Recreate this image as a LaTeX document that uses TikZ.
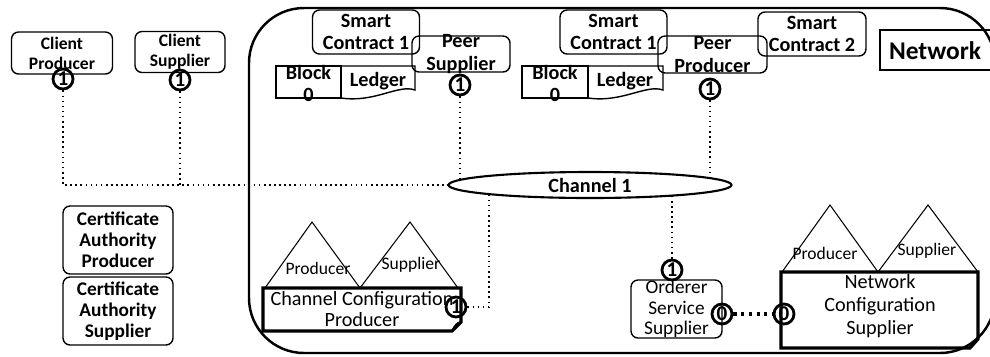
\documentclass[tikz,border=0pt]{standalone}
\usepackage{fontspec}
\setmainfont{Carlito}
\usetikzlibrary{shapes.geometric,backgrounds}

\tikzset{
	box/.style={draw, rounded corners=4pt, line width=0.8pt, inner sep=0pt, align=center},
	txtb/.style={font=\bfseries\fontsize{11.5}{13}\selectfont, align=center},
	txts/.style={font=\bfseries\fontsize{10}{11.3}\selectfont, align=center},
	txtca/.style={font=\bfseries\fontsize{11}{12}\selectfont, align=center},
	txtr/.style={font=\fontsize{11.5}{12}\selectfont, align=center},
	txtt/.style={font=\fontsize{10}{11}\selectfont},
	port/.style={draw, circle, line width=1.6pt, minimum size=0.4cm, inner sep=0pt, font=\bfseries\fontsize{12}{12}\selectfont},
	link/.style={dotted, line width=0.9pt},
	cfg/.style={line width=1.8pt},
	tri/.style={line width=0.6pt},
}

\begin{document}
\begin{tikzpicture}[x=0.02cm, y=-0.02cm]
	\useasboundingbox (0,0) rectangle (990,356);
	\draw[line width=1.4pt, rounded corners=1.1cm] (249,8) rectangle (995,353);
	\draw[line width=0.8pt] (1000,30) -- (880,30) -- (880,70) -- (1000,70);
	\node[font=\bfseries\fontsize{14.5}{16}\selectfont] (netlbl) at (935,51) {Network};

	\node[box, txts, minimum width=2.02cm, minimum height=0.84cm] (cprod) at (62,53) {Client\\Producer};
	\node[box, txts, minimum width=1.8cm, minimum height=0.82cm] (csupp) at (180,52) {Client\\Supplier};

	\node[box, txtb, minimum width=2.14cm, minimum height=0.88cm] (sc1a) at (366,32) {Smart\\Contract 1};
	\node[box, minimum width=1.96cm, minimum height=0.72cm, label={[txtb]center:Peer\\Supplier}] (psupp) at (461,54) {};
	\node[draw, line width=0.8pt, minimum width=1.3cm, minimum height=0.64cm, label={[txtb, yshift=-0.03cm]center:Block\\0}] (blk0a) at (308.5,82) {};
	\draw[line width=0.8pt] (341,98) -- (341,66) -- (415,66) -- (415,90) .. controls (398,84) and (375,103) .. (341,98);
	\node[txtb] (ledga) at (378,81) {Ledger};

	\node[box, txtb, minimum width=2.14cm, minimum height=0.88cm] (sc1b) at (613.5,32) {Smart\\Contract 1};
	\node[box, minimum width=2.18cm, minimum height=0.74cm, label={[txtb]center:Peer\\Producer}] (pprod) at (712.5,54.5) {};
	\node[box, txtb, minimum width=2.16cm, minimum height=0.88cm] (sc2) at (812,34) {Smart\\Contract 2};
	\node[draw, line width=0.8pt, minimum width=1.32cm, minimum height=0.64cm, label={[txtb, yshift=-0.03cm]center:Block\\0}] (blk0b) at (555,82) {};
	\draw[line width=0.8pt] (588,98) -- (588,66) -- (663,66) -- (663,90) .. controls (646,84) and (622,103) .. (588,98);
	\node[txtb] (ledgb) at (625,81) {Ledger};

	\node[ellipse, draw, fill=white, line width=1.2pt, minimum width=5.66cm, minimum height=0.52cm, inner sep=0pt, txtb] (chan) at (590,185) {Channel 1};
	\coordinate (chanA) at (489,185);

	\node[box, txtca, minimum width=2.2cm, minimum height=1.36cm] (caprod) at (118,240) {Certificate\\Authority\\Producer};
	\node[box, txtca, minimum width=2.2cm, minimum height=1.36cm] (casupp) at (118,311) {Certificate\\Authority\\Supplier};

	\draw[tri] (265,288) -- (312,222) -- (360,288) -- (410,222) -- (458,288);
	\node[txtt] (tpa) at (318,268) {Producer};
	\node[txtt] (tsa) at (411,265) {Supplier};
	\draw[cfg] (263,288) -- (461,288) -- (461,322) -- (452,331) -- (263,331) -- cycle;
	\draw[line width=0.8pt] (461,322) .. controls (457,322) and (454,326) .. (452,331);
	\node[txtr] (ccfg) at (362,309) {Channel Configuration\\Producer};

	\node[box, font=\fontsize{11}{11.6}\selectfont, minimum width=1.82cm, minimum height=1.16cm] (ords) at (676.5,309) {Orderer\\Service\\Supplier};

	\draw[tri] (782,272) -- (830,205) -- (878,272) -- (928,205) -- (978,272);
	\node[txtt] (tpb) at (825,253) {Producer};
	\node[txtt] (tsb) at (927,251) {Supplier};
	\draw[cfg] (781,272) -- (978,272) -- (978,339) -- (970,348) -- (781,348) -- cycle;
	\draw[line width=0.8pt] (978,339) .. controls (974,339) and (971,343) .. (970,348);
	\node[font=\fontsize{11.5}{13}\selectfont, align=center] (ncfg) at (880,306) {Network\\Configuration\\Supplier};

	\node[port] (pcp) at (63,79) {1};
	\node[port] (pcs) at (180,80) {1};
	\node[port] (pps) at (460,85) {1};
	\node[port] (ppp) at (710,89) {1};
	\node[port] (pcc) at (456,307) {1};
	\node[port] (pos) at (672,270) {1};
	\node[port] (po0) at (722,314) {0};
	\node[port] (pn0) at (784,314) {0};

	\begin{scope}[on background layer]
		\draw[link] (pcp.south) |- (chan.west);
		\draw[link] (pcs.south) -- (pcs |- chan.west);
		\draw[link] (pps.south) -- (pps |- chan.center);
		\draw[link] (ppp.south) -- (ppp |- chan.center);
		\draw[link] (pcc.east) -| (chanA);
		\draw[link] (pos.north) -- (pos |- chan.center);
	\end{scope}
	\draw[line width=1.8pt, dash pattern=on 1.8pt off 2.6pt] (po0.east) -- (pn0.west);
\end{tikzpicture}
\end{document}
